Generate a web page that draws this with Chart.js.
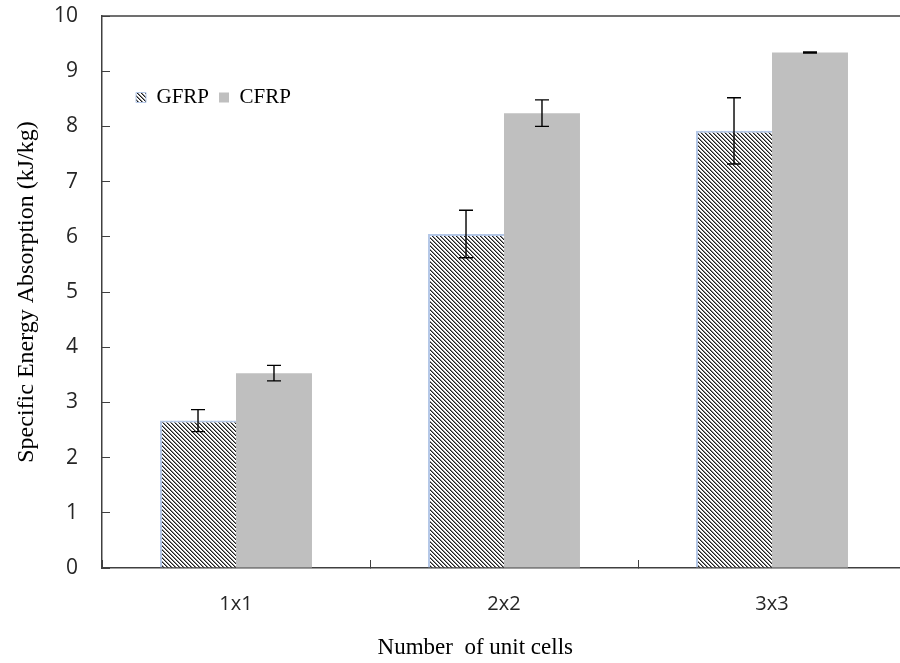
<!DOCTYPE html>
<html lang="en">
<head>
  <meta charset="UTF-8">
  <title>Specific Energy Absorption</title>
  <script src="https://cdn.jsdelivr.net/npm/chart.js@4"></script>
  <style>
    html, body { margin: 0; padding: 0; background: #ffffff; overflow: hidden; }
    .wrap { width: 906px; height: 663px; }
  </style>
</head>
<body>
  <div class="wrap"><canvas id="chart"></canvas></div>
  <script>
    // values
    const categories = ['1x1', '2x2', '3x3'];
    const gfrpValues = [2.67, 6.05, 7.92];
    const cfrpValues = [3.53, 8.24, 9.34];
    const gfrpErrors = [0.20, 0.43, 0.60];
    const cfrpErrors = [0.14, 0.24, 0.01];
    const yMin = 0, yMax = 10, yStep = 1;

    const canvas = document.getElementById('chart');

    // diagonal hatch for GFRP
    function hatchPattern() {
      const c = document.createElement('canvas');
      c.width = 4; c.height = 4;
      const g = c.getContext('2d');
      g.fillStyle = '#ffffff';
      g.fillRect(0, 0, 4, 4);
      for (let i = 0; i < 4; i++) {
        g.fillStyle = '#1e1e1e';
        g.fillRect(i, i, 1, 1);
        g.fillStyle = '#8a8a8a';
        g.fillRect((i + 1) % 4, i, 1, 1);
      }
      return canvas.getContext('2d').createPattern(c, 'repeat');
    }

    // error bars drawn on top of the bars
    const errorBars = {
      id: 'errorBars',
      afterDatasetsDraw(chart) {
        const ctx = chart.ctx;
        const y = chart.scales.y;
        [gfrpErrors, cfrpErrors].forEach((errs, i) => {
          const vals = chart.data.datasets[i].data;
          chart.getDatasetMeta(i).data.forEach((bar, j) => {
            const hi = y.getPixelForValue(vals[j] + errs[j]);
            const lo = y.getPixelForValue(vals[j] - errs[j]);
            ctx.save();
            ctx.strokeStyle = '#000000';
            ctx.lineWidth = 1.4;
            ctx.beginPath();
            ctx.moveTo(bar.x, hi); ctx.lineTo(bar.x, lo);
            ctx.moveTo(bar.x - 7, hi); ctx.lineTo(bar.x + 7, hi);
            ctx.moveTo(bar.x - 7, lo); ctx.lineTo(bar.x + 7, lo);
            ctx.stroke();
            ctx.restore();
          });
        });
      }
    };

    // top frame line + legend floated inside the plot (takes no layout space)
    const frame = {
      id: 'frame',
      beforeLayout(chart) {
        const lg = chart.legend;
        if (lg && !lg._floating) {
          const fit = lg.fit;
          lg.fit = function () {
            fit.call(this);
            this._boxH = this.height;
            this.height = 0;
          };
          lg._floating = true;
        }
      },
      afterLayout(chart) {
        const lg = chart.legend;
        const a = chart.chartArea;
        const w = lg.width;
        lg.left = a.left + 24;
        lg.top = a.top + 61;
        lg.right = lg.left + w;
        lg.bottom = lg.top + (lg._boxH || 0);
      },
      afterDraw(chart) {
        const ctx = chart.ctx;
        const a = chart.chartArea;
        ctx.save();
        ctx.strokeStyle = '#404040';
        ctx.lineWidth = 1.5;
        ctx.beginPath();
        ctx.moveTo(a.left, a.top);
        ctx.lineTo(a.right, a.top);
        ctx.stroke();
        ctx.restore();
      }
    };

    new Chart(canvas, {
      type: 'bar',
      data: {
        labels: categories,
        datasets: [
          {
            label: 'GFRP',
            data: gfrpValues,
            backgroundColor: hatchPattern(),
            borderColor: '#b4c7e7',
            borderWidth: { top: 2, left: 2, right: 0, bottom: 0 },
            barPercentage: 1,
            categoryPercentage: 0.567
          },
          {
            label: 'CFRP',
            data: cfrpValues,
            backgroundColor: '#bfbfbf',
            borderWidth: 0,
            barPercentage: 1,
            categoryPercentage: 0.567
          }
        ]
      },
      options: {
        responsive: true,
        maintainAspectRatio: false,
        animation: false,
        layout: { padding: { top: 16, left: 0, right: 0, bottom: 0 } },
        plugins: {
          tooltip: { enabled: false },
          legend: {
            position: 'top',
            align: 'start',
            labels: {
              boxWidth: 10,
              boxHeight: 10,
              padding: 10,
              color: '#000000',
              font: { family: 'Liberation Serif', size: 21 }
            }
          }
        },
        scales: {
          x: {
            ticks: {
              color: '#262626',
              font: { family: 'Open Sans', size: 20 },
              padding: 32
            },
            grid: { drawOnChartArea: false, offset: true, tickLength: -8, color: '#404040' },
            border: { color: '#404040', width: 1.5 },
            title: {
              display: true,
              text: 'Number  of unit cells          ',
              color: '#000000',
              font: { family: 'Liberation Serif', size: 23 },
              padding: { top: 0, bottom: 1 }
            },
            afterFit(s) { s.height = 95; s.paddingLeft = 0; s.paddingRight = 0; }
          },
          y: {
            min: yMin,
            max: yMax,
            ticks: {
              stepSize: yStep,
              color: '#262626',
              font: { family: 'Open Sans', size: 21 },
              padding: 32
            },
            grid: { drawOnChartArea: false, tickLength: -8, color: '#404040' },
            border: { color: '#404040', width: 1.5 },
            title: {
              display: true,
              text: 'Specific Energy Absorption (kJ/kg)',
              color: '#000000',
              font: { family: 'Liberation Serif', size: 24 },
              padding: { top: 12, bottom: 0 }
            },
            afterFit(s) { s.width = 102; s.paddingTop = 12; s.paddingBottom = 12; }
          }
        }
      },
      plugins: [errorBars, frame]
    });
  </script>
</body>
</html>
